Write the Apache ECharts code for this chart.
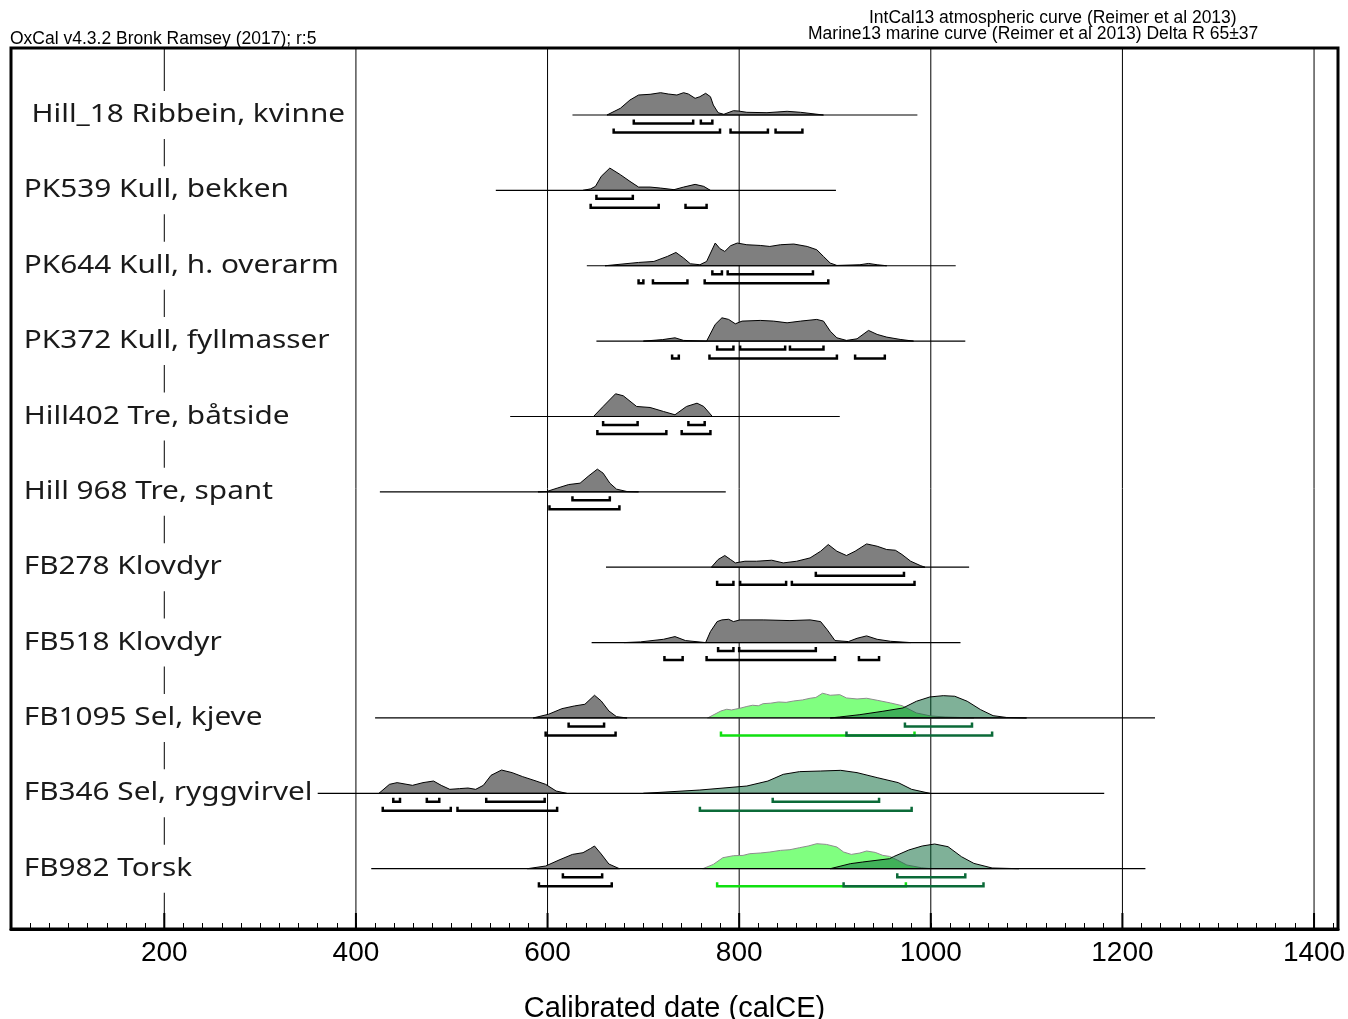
<!DOCTYPE html>
<html>
<head>
<meta charset="utf-8">
<title>OxCal multiplot</title>
<script src="https://cdn.jsdelivr.net/npm/echarts@6/dist/echarts.min.js"></script>
<style>
  html, body { margin: 0; padding: 0; background: #fff; }
  #chart { width: 1348px; height: 1019px; }
</style>
</head>
<body>
<div id="chart"></div>
<script>
// == Data ====================================================================

const rowLabels = [
  ' Hill_18 Ribbein, kvinne',
  'PK539 Kull, bekken',
  'PK644 Kull, h. overarm',
  'PK372 Kull, fyllmasser',
  'Hill402 Tre, båtside',
  'Hill 968 Tre, spant',
  'FB278 Klovdyr',
  'FB518 Klovdyr',
  'FB1095 Sel, kjeve',
  'FB346 Sel, ryggvirvel',
  'FB982 Torsk'
]

// probability curves, [calCE, relative probability]
const hill18 = [[662,0],[676,6.7],[686,15],[695,20],[707,20.7],[718,22.3],[726,21],[735,20],[742,22.3],[747,21],[754,16.7],[759,18.3],[765,21.7],[770,18.3],[773,10],[778,2.3],[784,0.7],[794,4.3],[799,4],[808,2.7],[829,2.3],[850,3.7],[864,2.7],[888,0]]
const pk539 = [[637,0],[645,1.5],[650,4],[656,14],[665,22.3],[676,15.7],[686,9],[695,3.3],[707,3.3],[718,2.3],[732,0.7],[742,3.3],[754,6],[763,4],[770,0]]
const pk644 = [[660,0],[695,3.3],[711,4.3],[725,9.3],[734,13.3],[742,7.7],[749,2],[759,1],[766,4.3],[775,22.7],[780,17],[785,14.3],[791,20],[798,22.7],[808,21],[822,20.3],[832,19.3],[843,21],[857,21.7],[871,19.3],[881,16],[888,9.3],[895,2.7],[902,0.3],[926,1],[935,2.3],[944,1],[954,0]]
const pk372 = [[700,0],[720,1.5],[733,3.3],[742,0.7],[766,0],[775,16.7],[782,23.3],[789,21.7],[796,17.3],[803,20],[822,20.7],[836,20],[850,18.3],[864,20],[881,21.7],[888,20],[895,10],[902,3.3],[912,0.7],[923,2.3],[935,10.7],[944,6.7],[954,4],[968,1.7],[982,0]]
const hill402 = [[648,0],[658,10],[671,22.7],[679,20.7],[693,10],[707,9],[721,5],[733,1.7],[745,10],[756,13.3],[763,10],[772,0]]
const hill968 = [[590,0],[599,0.3],[610,3.7],[622,7.3],[634,8.7],[643,16],[652,22.7],[658,18.7],[665,8.7],[672,2.7],[683,0.3],[695,0]]
const fb278 = [[771,0],[778,7.7],[785,11.7],[791,7.7],[796,4.3],[806,6],[818,6],[834,7],[846,4.3],[860,6],[874,9.3],[885,16],[893,22.7],[902,16],[912,11.7],[921,16],[933,23.3],[944,21],[954,17.7],[963,17],[970,12.7],[979,6],[989,1.7],[994,0]]
const fb518 = [[680,0],[697,0.7],[721,3.3],[733,6],[744,2],[765,0],[770,11],[777,21],[782,22.7],[789,23.3],[794,21],[801,22.7],[825,22.7],[853,22],[874,22.7],[885,21],[892,12.7],[900,2],[914,1],[923,4.3],[933,6.7],[944,3.3],[958,1.3],[979,0]]
const fb1095 = [[585,0],[601,3.7],[615,9.3],[628,12],[639,13.7],[649,22.7],[656,17],[664,7],[672,1.3],[683,0]]
const fb346 = [[424,0],[435,9],[443,10.7],[459,8],[470,10.7],[481,12.3],[489,8],[498,4],[508,4.7],[517,5.3],[525,4],[533,8],[541,18],[552,23.3],[563,20.7],[574,16.7],[588,12.3],[598,9],[609,2.3],[620,0]]
const fb982 = [[579,0],[598,2.7],[612,8.7],[626,14.3],[637,16],[645,20.3],[649,22.7],[656,14.7],[664,4.7],[675,0]]

// IntCal13 (atmospheric) curves, drawn light green
const fb1095Atm = [[767,0],[781,7],[787,8.7],[792,8],[802,10],[808,11.5],[814,12.7],[820,12.2],[825,14.3],[833,14.8],[841,16],[849,15.6],[857,17],[866,18],[874,19.7],[880,20.5],[887,24.7],[891,23.8],[895,22.7],[905,23.3],[912,20],[923,19],[933,19.7],[944,17.7],[958,15],[970,12.3],[985,5],[1000,2],[1015,1],[1045,0]]
const fb982Atm = [[762,0],[773,4.3],[783,11],[794,13],[804,13.3],[811,15],[822,15.7],[832,16.7],[843,18.3],[853,19],[863,21],[872,22.7],[881,25],[891,24.3],[902,21.7],[909,16.7],[917,14.3],[926,15.7],[933,17.7],[942,16.3],[950,13.3],[957,12.3],[965,8.7],[975,3.7],[990,1],[1000,0]]

// Marine13 curves, drawn dark green
const fb1095Mar = [[895,0],[905,1],[926,3.3],[950,6.7],[971,10],[985,16.7],[999,21],[1013,22.3],[1025,21.7],[1038,16.7],[1052,8.3],[1065,2.3],[1079,0.5],[1100,0]]
const fb346Mar = [[700,0],[759,3.3],[808,7.3],[830,12.3],[846,19],[863,21.7],[885,22.3],[906,23],[923,20.7],[944,15.7],[966,10.7],[980,4],[999,0]]
const fb982Mar = [[895,0],[916,5],[929,6.7],[957,10],[961,12],[977,18.7],[991,22.7],[1004,24.7],[1018,22],[1032,12],[1045,5.3],[1064,0.7],[1092,0]]

const grayCurves = [hill18, pk539, pk644, pk372, hill402, hill968, fb278, fb518, fb1095, fb346, fb982]
const atmCurves = [null, null, null, null, null, null, null, null, fb1095Atm, null, fb982Atm]
const marCurves = [null, null, null, null, null, null, null, null, fb1095Mar, fb346Mar, fb982Mar]

// extent of each row's line
const spans = [[626,986],[546,901],[641,1026],[651,1036],[561,905],[425,786],[661,1040],[646,1031],[420,1234],[360,1181],[416,1224]]

// 68.2% and 95.4% ranges
const gray68 = [
  [[690,752],[760,772]],
  [[651,689]],
  [[772,782],[788,877]],
  [[777,794],[801,848],[853,888]],
  [[658,694],[747,764]],
  [[626,665]],
  [[880,972]],
  [[778,794],[800,880]],
  [[622,659]],
  [[439,446],[474,487],[536,597]],
  [[616,657]]
]
const gray95 = [
  [[669,780],[791,830],[838,866]],
  [[645,716],[744,766]],
  [[695,700],[710,746],[764,893]],
  [[730,737],[769,902],[921,952]],
  [[652,724],[740,770]],
  [[602,675]],
  [[777,794],[801,849],[855,983]],
  [[722,741],[766,900],[925,946]],
  [[598,671]],
  [[428,499],[506,610]],
  [[591,667]]
]
const atm95 = [[], [], [], [], [], [], [], [], [[781,983]], [], [[777,974]]]
const mar68 = [[], [], [], [], [], [], [], [], [[973,1043]], [[835,946]], [[965,1036]]]
const mar95 = [[], [], [], [], [], [], [], [], [[912,1064]], [[759,980]], [[909,1055]]]

const gridYears = [200, 400, 600, 800, 1000, 1200, 1400]

// == Layout ==================================================================

const ROW0 = 67
const ROW_STEP = 75.37
const OFF68 = 8.5
const OFF95 = 17.5
const rowBase = row => ROW0 + ROW_STEP * row

const GRAY = '#7f7f7f'
const ATM = '#80ff80'
const MAR = 'rgba(0,100,50,0.5)'
const ATM_LINE = '#10e010'
const MAR_LINE = '#0b6a38'

function curveSeries (curves, fill, stroke, z) {
  const data = []
  curves.forEach((c, i) => { if (c) data.push([c[0][0], i]) })
  return {
    type: 'custom',
    z,
    silent: true,
    data,
    renderItem (params, api) {
      const row = api.value(1)
      const base = rowBase(row)
      const points = curves[row].map(p => api.coord([p[0], base - p[1]]))
      return {
        type: 'polygon',
        shape: {points},
        style: {fill, stroke, lineWidth: 1}
      }
    }
  }
}

// bracket items: [start, row, end, offset, colour]
const brackets = []
function addRanges (ranges, off, color) {
  ranges.forEach((list, row) => {
    list.forEach(r => brackets.push([r[0], row, r[1], off, color]))
  })
}
addRanges(gray68, OFF68, '#000')
addRanges(gray95, OFF95, '#000')
addRanges(atm95, OFF95, ATM_LINE)
addRanges(mar68, OFF68, MAR_LINE)
addRanges(mar95, OFF95, MAR_LINE)

const textFont = "'Liberation Sans', Arial, sans-serif"

const option = {
  animation: false,
  grid: {
    left: 11, right: 10, top: 48, bottom: 90,
    outerBoundsMode: 'none',
    show: true, borderColor: '#000', borderWidth: 3
  },
  xAxis: {
    type: 'value',
    min: 40,
    max: 1425,
    interval: 20,
    name: 'Calibrated date (calCE)',
    nameLocation: 'middle',
    nameGap: 65,
    nameTextStyle: {fontSize: 29, color: '#000', fontFamily: textFont},
    axisLine: {onZero: false, lineStyle: {color: '#000', width: 3}},
    axisTick: {inside: true, length: 6, lineStyle: {color: '#000', width: 1}},
    axisLabel: {
      margin: 10,
      fontSize: 28,
      color: '#000',
      fontFamily: textFont,
      formatter: v => (v % 200 === 0 ? String(v) : '')
    },
    splitLine: {show: false}
  },
  yAxis: {
    type: 'value',
    min: 0,
    max: 881,
    inverse: true,
    show: false
  },
  graphic: [
    {type: 'text', left: 10, top: 30, style: {text: 'OxCal v4.3.2 Bronk Ramsey (2017); r:5', fontSize: 17.5, fill: '#000', fontFamily: textFont}},
    {type: 'text', left: 869, top: 9, style: {text: 'IntCal13 atmospheric curve (Reimer et al 2013)', fontSize: 17.5, fill: '#000', fontFamily: textFont}},
    {type: 'text', left: 808, top: 25, style: {text: 'Marine13 marine curve (Reimer et al 2013) Delta R 65±37', fontSize: 17.5, fill: '#000', fontFamily: textFont}}
  ],
  series: [
    // vertical lines at the labelled years, with the long ticks
    {
      type: 'custom',
      z: 1,
      silent: true,
      data: gridYears.map(v => [v, 0]),
      renderItem (params, api) {
        const x = api.coord([api.value(0), 0])[0]
        const cs = params.coordSys
        const bottom = cs.y + cs.height
        return {
          type: 'group',
          children: [
            {type: 'line', shape: {x1: x, y1: cs.y, x2: x, y2: bottom}, style: {stroke: '#000', lineWidth: 1}},
            {type: 'line', shape: {x1: x, y1: bottom - 16, x2: x, y2: bottom}, style: {stroke: '#000', lineWidth: 2}}
          ]
        }
      }
    },
    curveSeries(grayCurves, GRAY, '#000', 2),
    curveSeries(atmCurves, ATM, '#8c8c8c', 3),
    curveSeries(marCurves, MAR, '#000', 4),
    // row lines
    {
      type: 'custom',
      z: 5,
      silent: true,
      data: spans.map((s, i) => [s[0], i, s[1]]),
      renderItem (params, api) {
        const base = rowBase(api.value(1))
        const p1 = api.coord([api.value(0), base])
        const p2 = api.coord([api.value(2), base])
        return {type: 'line', shape: {x1: p1[0], y1: p1[1], x2: p2[0], y2: p2[1]}, style: {stroke: '#000', lineWidth: 1.2}}
      }
    },
    // range brackets
    {
      type: 'custom',
      z: 6,
      silent: true,
      data: brackets,
      renderItem (params, api) {
        const y = rowBase(api.value(1)) + api.value(3)
        const p1 = api.coord([api.value(0), y])
        const p2 = api.coord([api.value(2), y])
        return {
          type: 'polyline',
          shape: {points: [[p1[0], p1[1] - 4], p1, p2, [p2[0], p2[1] - 4]]},
          style: {stroke: brackets[params.dataIndex][4], lineWidth: 2.5, fill: null}
        }
      }
    },
    // row names (the original face is wider than Noto Sans, hence scaleX)
    {
      type: 'custom',
      z: 10,
      silent: true,
      data: rowLabels.map((t, i) => [0, i]),
      renderItem (params, api) {
        const row = api.value(1)
        const y = api.coord([40, rowBase(row)])[1]
        return {
          type: 'text',
          x: params.coordSys.x + 8,
          y,
          scaleX: 1.19,
          style: {
            text: rowLabels[row],
            fontSize: 25,
            fontFamily: "'Noto Sans', sans-serif",
            fill: '#1a1a1a',
            align: 'left',
            verticalAlign: 'middle',
            lineHeight: 28,
            backgroundColor: '#fff',
            padding: [10, 4, 10, 4]
          }
        }
      }
    }
  ]
}

const myChart = echarts.init(document.getElementById('chart'))
myChart.setOption(option)
</script>
</body>
</html>
